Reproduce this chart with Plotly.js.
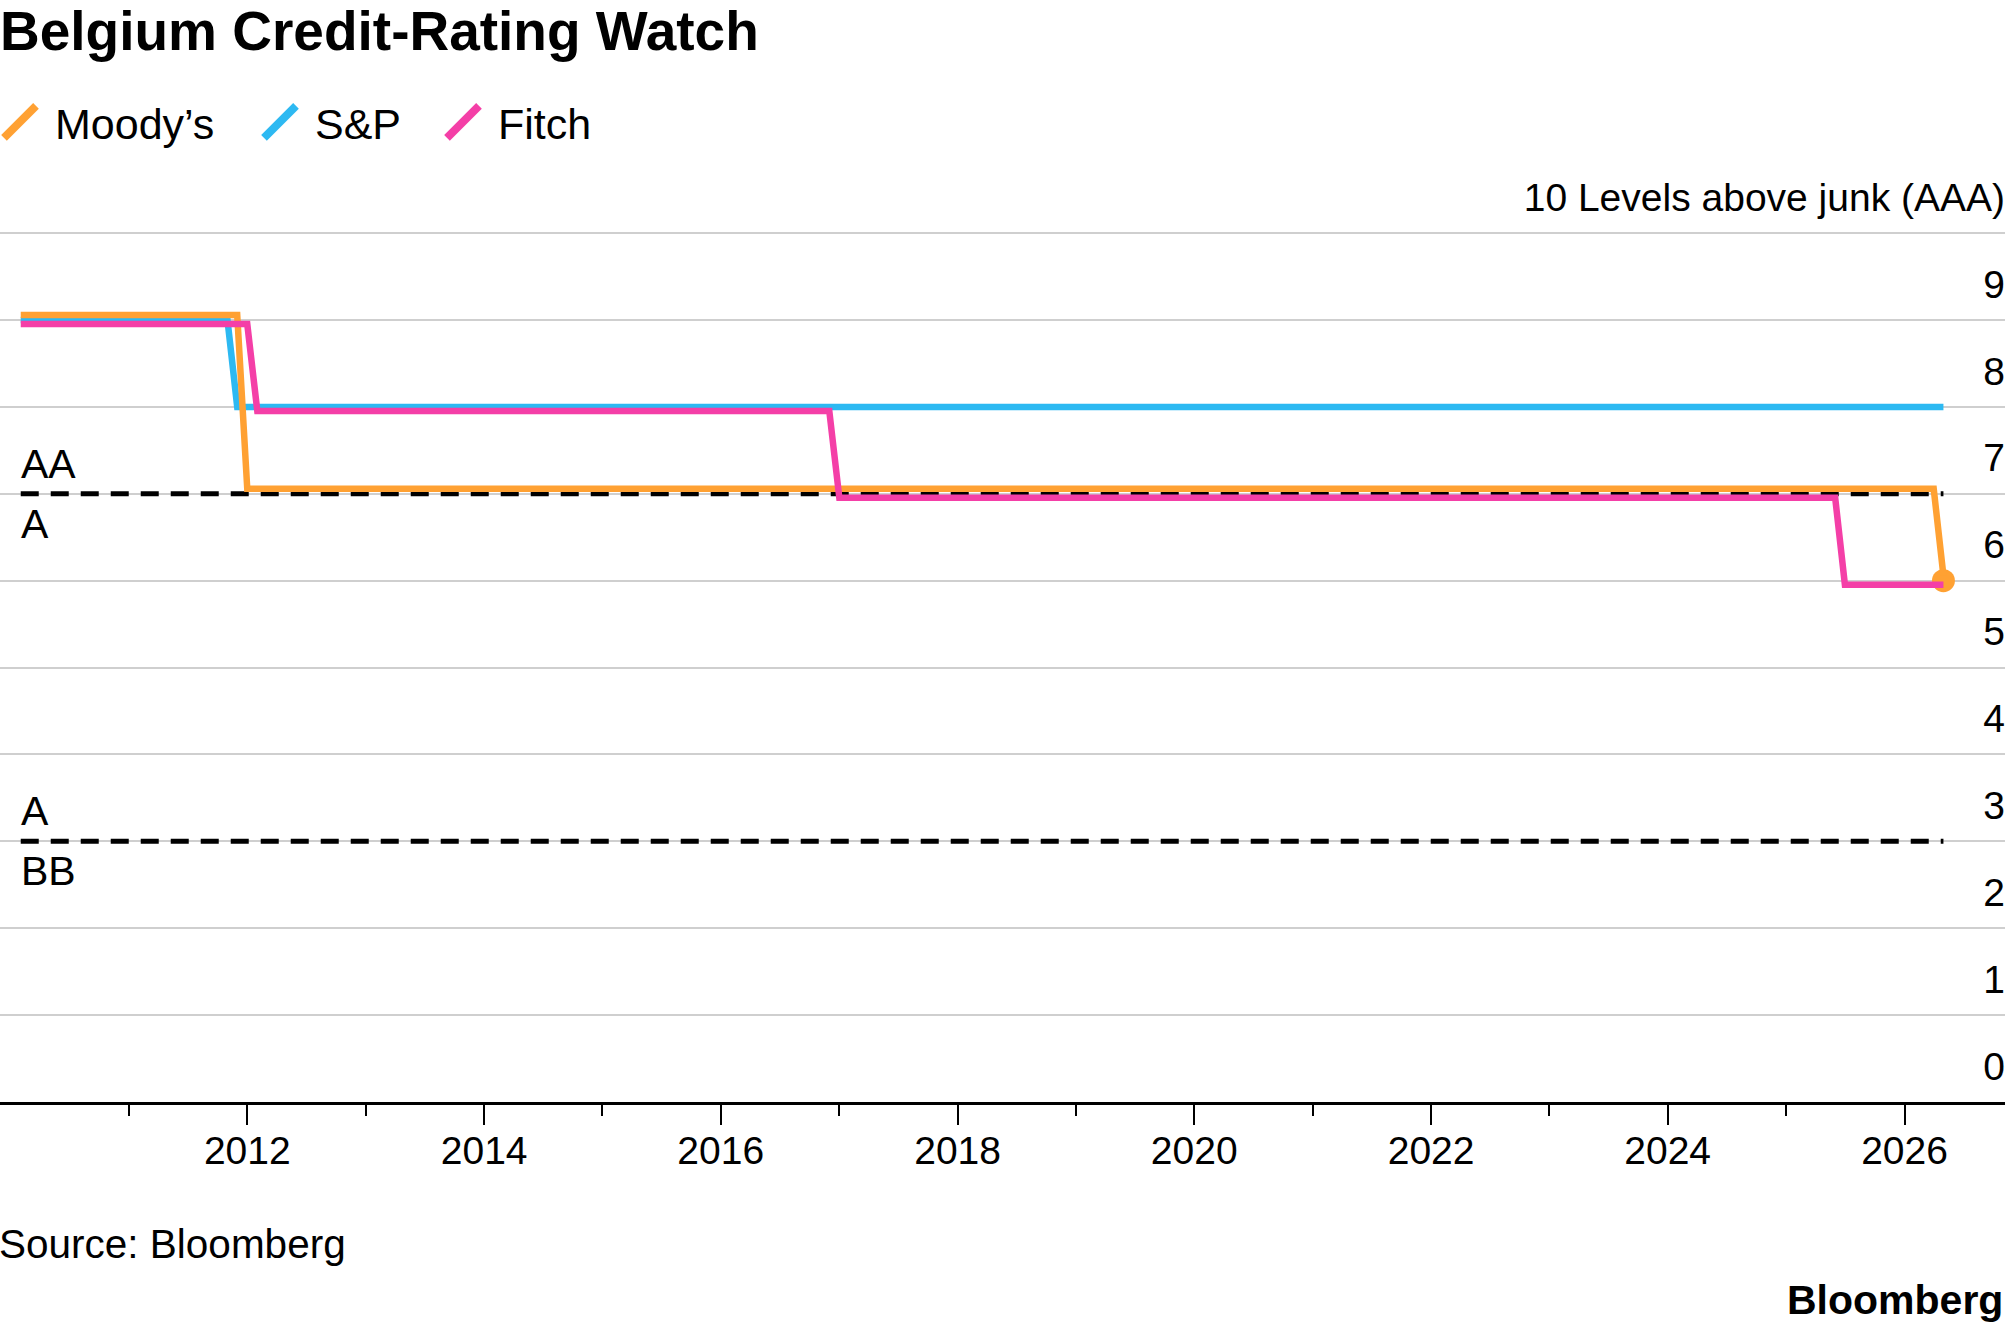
<!DOCTYPE html>
<html>
<head>
<meta charset="utf-8">
<script src="https://cdn.plot.ly/plotly-3.0.1.min.js"></script>
<style>
  html, body { margin: 0; padding: 0; background: #fff; }
  #chart { width: 2005px; height: 1329px; }
</style>
</head>
<body>
<div id="chart"></div>
<script>
// ---- Data (ratings as number of levels above junk) ----
var moodysDates = ['2010-02-01', '2011-12-01', '2012-01-01', '2026-04-01', '2026-05-01'];
var moodysLevels = [9, 9, 7, 7, 6];

var spDates = ['2010-02-01', '2011-11-01', '2011-12-01', '2026-05-01'];
var spLevels = [9, 9, 8, 8];

var fitchDates = ['2010-02-01', '2012-01-01', '2012-02-01', '2016-12-01', '2017-01-01', '2025-06-01', '2025-07-01', '2026-05-01'];
var fitchLevels = [9, 9, 8, 8, 7, 7, 6, 6];

var seriesNames = ["Moody\u2019s", 'S&P', 'Fitch'];

var thresholdLevels = [7, 3];
var labelsAbove = ['AA', 'A'];
var labelsBelow = ['A', 'BB'];

var xTickDates = ['2012-01-01', '2014-01-01', '2016-01-01', '2018-01-01', '2020-01-01', '2022-01-01', '2024-01-01', '2026-01-01'];
var xTickLabels = ['2012', '2014', '2016', '2018', '2020', '2022', '2024', '2026'];
var xMinorDates = ['2011-01-01', '2013-01-01', '2015-01-01', '2017-01-01', '2019-01-01', '2021-01-01', '2023-01-01', '2025-01-01'];

var yTickVals = [0, 1, 2, 3, 4, 5, 6, 7, 8, 9, 10];
var yTickLabels = ['0', '1', '2', '3', '4', '5', '6', '7', '8', '9', '10 Levels above junk (AAA)'];

// ---- Style ----
var COL_MOODYS = '#FFA133';
var COL_SP = '#2DB9F2';
var COL_FITCH = '#F43FA7';
var FONT = 'Liberation Sans, Arial, Helvetica, sans-serif';

var firstDate = spDates[0];
var lastDate = spDates[spDates.length - 1];

var traces = [
  {
    x: moodysDates, y: moodysLevels, name: seriesNames[0], type: 'scatter', mode: 'lines',
    yaxis: 'y2', line: { color: COL_MOODYS, width: 6.5 }, hoverinfo: 'skip', legendwidth: 200
  },
  {
    x: spDates, y: spLevels, name: seriesNames[1], type: 'scatter', mode: 'lines',
    yaxis: 'y', line: { color: COL_SP, width: 6.5 }, hoverinfo: 'skip', legendwidth: 123
  },
  {
    x: fitchDates, y: fitchLevels, name: seriesNames[2], type: 'scatter', mode: 'lines',
    yaxis: 'y3', line: { color: COL_FITCH, width: 6.5 }, hoverinfo: 'skip'
  }
];

// threshold dashed lines
thresholdLevels.forEach(function (lv) {
  traces.push({
    x: [firstDate, lastDate], y: [lv, lv], type: 'scatter', mode: 'lines',
    showlegend: false, hoverinfo: 'skip', yaxis: 'y',
    line: { color: '#000000', width: 5, dash: '18px,12px' }
  });
});

// latest Moody's point
traces.push({
  x: [moodysDates[moodysDates.length - 1]], y: [moodysLevels[moodysLevels.length - 1]],
  type: 'scatter', mode: 'markers', showlegend: false, hoverinfo: 'skip', yaxis: 'y',
  marker: { color: COL_MOODYS, size: 23 }
});

var annotations = [];
thresholdLevels.forEach(function (lv, i) {
  annotations.push({
    x: firstDate, y: lv, xref: 'x', yref: 'y', text: labelsAbove[i], showarrow: false,
    xanchor: 'left', yanchor: 'middle', yshift: 30, xshift: -2,
    font: { family: FONT, size: 41, color: '#000' }
  });
  annotations.push({
    x: firstDate, y: lv, xref: 'x', yref: 'y', text: labelsBelow[i], showarrow: false,
    xanchor: 'left', yanchor: 'middle', yshift: -30, xshift: -2,
    font: { family: FONT, size: 41, color: '#000' }
  });
});
annotations.push({
  x: 0, y: -0.15, xref: 'paper', yref: 'paper', text: 'Source: Bloomberg', showarrow: false,
  xanchor: 'left', yanchor: 'middle', xshift: -3,
  font: { family: FONT, size: 40.5, color: '#000' }
});
annotations.push({
  x: 1, y: -0.209, xref: 'paper', yref: 'paper', text: '<b>Bloomberg</b>', showarrow: false,
  xanchor: 'right', yanchor: 'middle', xshift: 0,
  font: { family: FONT, size: 41, color: '#000' }
});

var unitPx = 86.9;
var yTop = 10.9;
var layout = {
  width: 2005, height: 1329,
  margin: { l: 0, r: 0, t: 155, b: 227, pad: 0 },
  paper_bgcolor: '#ffffff', plot_bgcolor: '#ffffff',
  font: { family: FONT, color: '#000', size: 38 },
  title: {
    text: '<b>Belgium Credit-Rating Watch</b>',
    x: 0, xref: 'container', xanchor: 'left',
    y: 1 - 31 / 1329, yref: 'container', yanchor: 'middle',
    font: { family: FONT, size: 55, color: '#000' }
  },
  showlegend: true,
  legend: {
    orientation: 'h', x: 0, xanchor: 'left', y: 1.035, yanchor: 'middle',
    font: { family: FONT, size: 43, color: '#000' },
    itemwidth: 45, bgcolor: 'rgba(0,0,0,0)', borderwidth: 0,
    traceorder: 'normal'
  },
  xaxis: {
    type: 'date',
    range: ['2009-11-29', '2026-11-07'],
    showgrid: false, zeroline: false,
    showline: true, linecolor: '#000', linewidth: 3,
    ticks: 'outside', ticklen: 20, tickwidth: 2, tickcolor: '#000',
    tickmode: 'array', tickvals: xTickDates, ticktext: xTickLabels,
    ticklabelstandoff: -8,
    tickfont: { family: FONT, size: 39, color: '#000' },
    minor: { tickmode: 'array', tickvals: xMinorDates, ticks: 'outside', ticklen: 11, tickwidth: 2, tickcolor: '#000', showgrid: false },
    fixedrange: true
  },
  yaxis: {
    range: [0, yTop], side: 'right',
    tickmode: 'array', tickvals: yTickVals,
    showticklabels: false,
    ticks: '', showline: false, zeroline: false,
    showgrid: true, gridcolor: '#cfcfcf', gridwidth: 2,
    fixedrange: true
  },
  yaxis2: {
    overlaying: 'y', visible: false, range: [-5 / unitPx, yTop - 5 / unitPx], fixedrange: true
  },
  yaxis3: {
    overlaying: 'y', visible: false, range: [4 / unitPx, yTop + 4 / unitPx], fixedrange: true
  },
  yaxis4: {
    overlaying: 'y', anchor: 'free', position: 1, side: 'left',
    range: [0, yTop],
    tickmode: 'array', tickvals: yTickVals, ticktext: yTickLabels,
    ticklabelposition: 'outside', ticklabelshift: -36, ticklabelstandoff: 0,
    ticks: '', showline: false, zeroline: false, showgrid: false,
    tickfont: { family: FONT, size: 39, color: '#000' },
    fixedrange: true
  },
  annotations: annotations
};

// dummy anchor so that yaxis4 is drawn (a trace must reference it)
traces.push({
  x: [firstDate], y: [null], yaxis: 'y4', type: 'scatter', mode: 'lines',
  showlegend: false, hoverinfo: 'skip'
});

Plotly.newPlot('chart', traces, layout, { staticPlot: true, displayModeBar: false }).then(function (gd) {
  var paths = gd.querySelectorAll('.legend .traces .legendlines path');
  paths.forEach(function (p) {
    p.setAttribute('d', 'M4,16L36,-16');
    p.style.strokeWidth = '8px';
    p.style.strokeLinecap = 'butt';
  });
});
</script>
</body>
</html>
